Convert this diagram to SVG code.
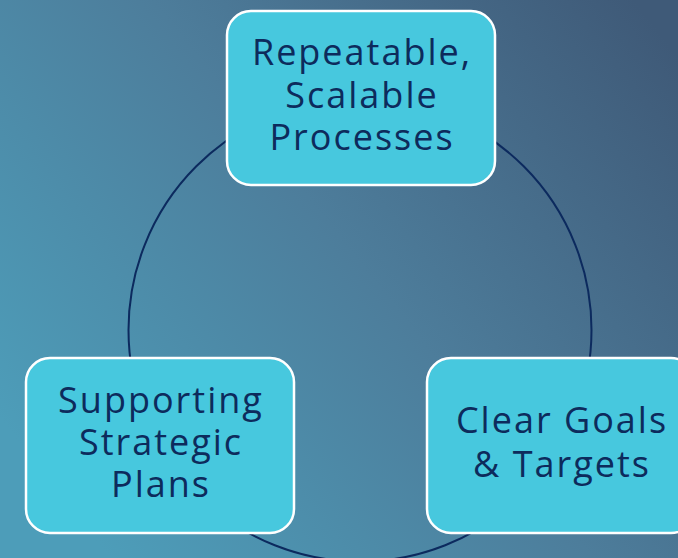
<svg xmlns="http://www.w3.org/2000/svg" width="678" height="558" viewBox="0 0 678 558">
<defs>
<linearGradient id="bg" x1="0" y1="0.75" x2="1" y2="0.1">
<stop offset="0" stop-color="#4d9db9"/>
<stop offset="0.5" stop-color="#4d7d9b"/>
<stop offset="1" stop-color="#3f5a78"/>
</linearGradient>
<style>
.box{fill:#47c8de;stroke:#ffffff;stroke-width:2.5}
.lbl{font-family:"Open Sans","Liberation Sans",sans-serif;font-size:36px;fill:#0d2b5c;text-anchor:middle;letter-spacing:2px}
.ring{fill:none;stroke:#0c2a5e;stroke-width:2}
</style>
</defs>
<rect width="678" height="558" fill="url(#bg)"/>
<g id="connectors">
<circle class="ring" cx="360" cy="330" r="231.5"/>
</g>
<g id="node-top">
<rect class="box" x="227" y="11" width="268" height="174" rx="24"/>
<text class="lbl" x="362" y="65">Repeatable,</text>
<text class="lbl" x="362" y="108">Scalable</text>
<text class="lbl" x="362" y="150">Processes</text>
</g>
<g id="node-left">
<rect class="box" x="26" y="358" width="268" height="175" rx="24"/>
<text class="lbl" x="161" y="413">Supporting</text>
<text class="lbl" x="161" y="455">Strategic</text>
<text class="lbl" x="161" y="497">Plans</text>
</g>
<g id="node-right">
<rect class="box" x="427" y="358" width="268" height="175" rx="24"/>
<text class="lbl" x="562" y="433">Clear Goals</text>
<text class="lbl" x="562" y="477">&amp; Targets</text>
</g>
</svg>
